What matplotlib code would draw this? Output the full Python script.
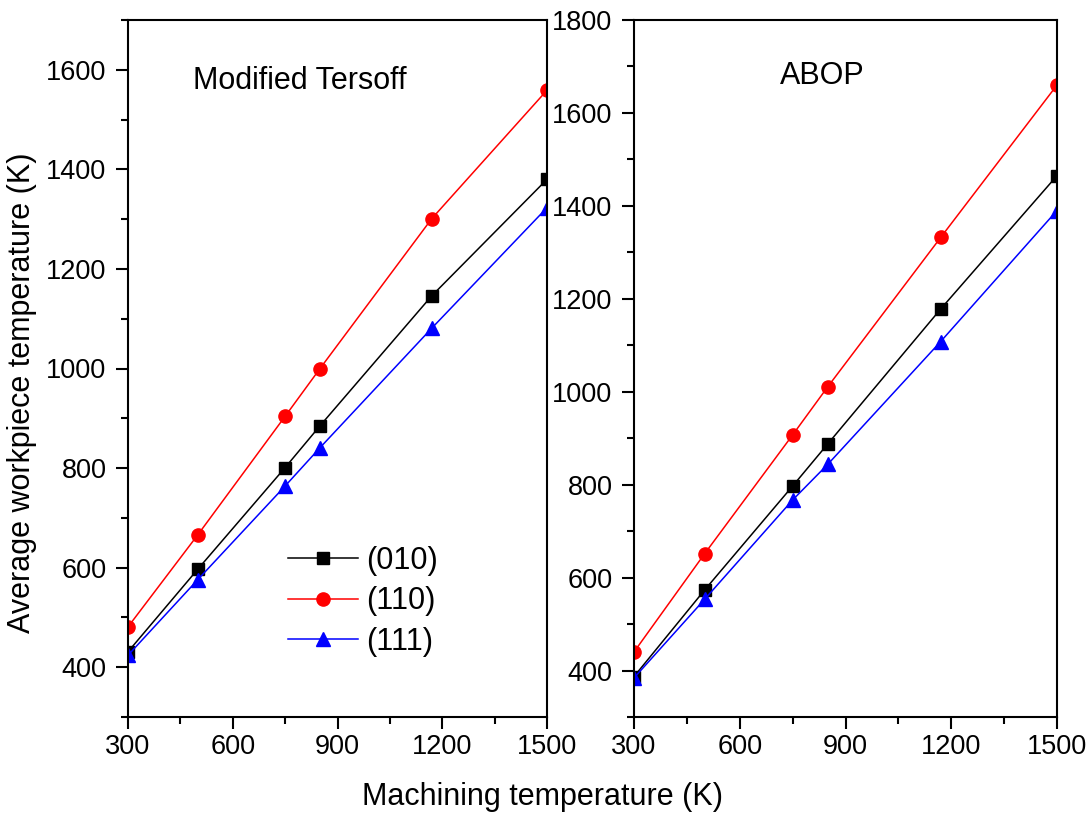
import matplotlib
matplotlib.use("Agg")
import matplotlib.pyplot as plt
from matplotlib.ticker import MultipleLocator

plt.rcParams['font.family'] = ['Liberation Sans', 'DejaVu Sans']

machining_T = [300, 500, 750, 850, 1170, 1500]
labels = ["(010)", "(110)", "(111)"]

tersoff_010 = [431, 597, 801, 885, 1146, 1380]
tersoff_110 = [481, 666, 904, 1000, 1301, 1559]
tersoff_111 = [424, 576, 764, 841, 1081, 1323]

abop_010 = [387, 573, 797, 888, 1178, 1465]
abop_110 = [440, 651, 907, 1011, 1332, 1660]
abop_111 = [384, 553, 767, 844, 1108, 1390]

colors = ["black", "red", "blue"]
markers = ["s", "o", "^"]
msizes = [9, 9.5, 10]

W, H = 1092, 816
fig = plt.figure(figsize=(W / 100, H / 100), dpi=100)

def frac(x0, x1, ytop, ybot):
    return [x0 / W, 1 - ybot / H, (x1 - x0) / W, (ybot - ytop) / H]

ax1 = fig.add_axes(frac(128, 547, 20, 717))
ax2 = fig.add_axes(frac(634, 1057, 20, 717))

panels = [
    (ax1, [tersoff_010, tersoff_110, tersoff_111], (300, 1700), "Modified Tersoff", 0.155, 0.912),
    (ax2, [abop_010, abop_110, abop_111], (300, 1800), "ABOP", 0.345, 0.920),
]

for ax, series, ylim, title, tx, ty in panels:
    for vals, c, m, ms, lab in zip(series, colors, markers, msizes, labels):
        ax.plot(machining_T, vals, color=c, marker=m, markersize=ms, lw=1.1,
                label=lab, markeredgecolor=c, markerfacecolor=c)
    ax.set_xlim(300, 1500)
    ax.set_ylim(*ylim)
    ax.xaxis.set_major_locator(MultipleLocator(300))
    ax.xaxis.set_minor_locator(MultipleLocator(150))
    ax.yaxis.set_major_locator(MultipleLocator(200))
    ax.yaxis.set_minor_locator(MultipleLocator(100))
    ax.tick_params(which='both', direction='out', width=1.5, top=False, right=False,
                   labelsize=19.5)
    ax.tick_params(which='major', length=8.5)
    ax.tick_params(which='minor', length=5)
    ax.tick_params(axis='x', pad=4)
    ax.tick_params(axis='y', pad=7)
    for sp in ax.spines.values():
        sp.set_linewidth(1.5)
    ax.text(tx, ty, title, transform=ax.transAxes, fontsize=22, ha='left', va='center')

ax1.legend(loc='upper left', bbox_to_anchor=(288 / W, 1 - 546 / H),
           bbox_transform=fig.transFigure, frameon=False, fontsize=22,
           handlelength=2.3, handletextpad=0.25, labelspacing=0.34,
           borderpad=0, borderaxespad=0)

fig.text(543 / W, 1 - 797 / H, "Machining temperature (K)", fontsize=22,
         ha='center', va='center')
fig.text(22 / W, 1 - 393 / H, "Average workpiece temperature (K)", fontsize=22,
         ha='center', va='center', rotation=90)

fig.savefig("out.png", dpi=100)
